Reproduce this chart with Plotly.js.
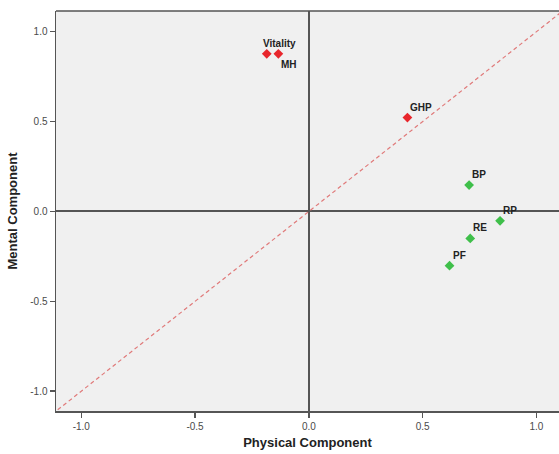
<!DOCTYPE html>
<html>
<head>
<meta charset="utf-8">
<script src="https://cdn.plot.ly/plotly-3.0.1.min.js"></script>
<style>html,body{margin:0;padding:0;background:#fff;overflow:hidden}#chart{width:559px;height:454px}</style>
</head>
<body>
<div id="chart"></div>
<script>
// Data
const labels = ["Vitality", "MH", "GHP", "BP", "RP", "RE", "PF"];
const physical = [-0.185, -0.134, 0.433, 0.704, 0.840, 0.709, 0.618];
const mental = [0.877, 0.877, 0.522, 0.147, -0.052, -0.150, -0.302];
const groups = ["red", "red", "red", "green", "green", "green", "green"];
const refLine = [-1.2, 1.2];
const tickVals = [-1.0, -0.5, 0.0, 0.5, 1.0];
const tickText = ["-1.0", "-0.5", "0.0", "0.5", "1.0"];

const colorMap = {red: "#e8262c", green: "#3fbf4a"};

const traces = [
  {
    x: refLine, y: refLine, mode: "lines", type: "scatter",
    line: {color: "#e07a7a", width: 1.2, dash: "4px,3px"},
    hoverinfo: "skip", showlegend: false
  },
  {
    x: physical, y: mental, mode: "markers", type: "scatter",
    marker: {symbol: "diamond", size: 7.5, color: groups.map(g => colorMap[g])},
    text: labels, showlegend: false
  }
];

const annotations = labels.map((t, i) => ({
  x: physical[i], y: mental[i], xref: "x", yref: "y",
  text: "<b>" + t + "</b>", showarrow: false,
  xanchor: "left", yanchor: "bottom",
  xshift: (t === "Vitality" ? -6 : 1),
  yshift: (t === "MH" ? -18 : 3),
  font: {family: "Liberation Sans, Arial, sans-serif", size: 10, color: "#222"}
}));

const axisCommon = {
  tickvals: tickVals, ticktext: tickText,
  ticks: "outside", ticklen: 5, tickwidth: 1.5, tickcolor: "#555",
  tickfont: {family: "Liberation Sans, Arial, sans-serif", size: 10, color: "#4a4a4a"},
  showgrid: false,
  zeroline: true, zerolinecolor: "#555", zerolinewidth: 2,
  showline: true, linecolor: "#555", linewidth: 1.5,
  fixedrange: true
};

const layout = {
  width: 559, height: 454,
  margin: {l: 55.5, r: 0, t: 11, b: 43, pad: 0},
  paper_bgcolor: "#ffffff",
  plot_bgcolor: "#f0f0f0",
  xaxis: Object.assign({}, axisCommon, {
    range: [-1.111, 1.099],
    title: {text: "<b>Physical Component</b>", standoff: 7,
      font: {family: "Liberation Sans, Arial, sans-serif", size: 13, color: "#222"}}
  }),
  yaxis: Object.assign({}, axisCommon, {
    range: [-1.11, 1.115],
    title: {text: "<b>Mental Component</b>", standoff: 9,
      font: {family: "Liberation Sans, Arial, sans-serif", size: 13, color: "#222"}}
  }),
  shapes: [
    {type: "line", xref: "paper", yref: "paper", x0: 0, x1: 1, y0: 1, y1: 1,
     line: {color: "#555", width: 1.5}}
  ],
  annotations: annotations
};

Plotly.newPlot("chart", traces, layout, {displayModeBar: false, staticPlot: true});
</script>
</body>
</html>
